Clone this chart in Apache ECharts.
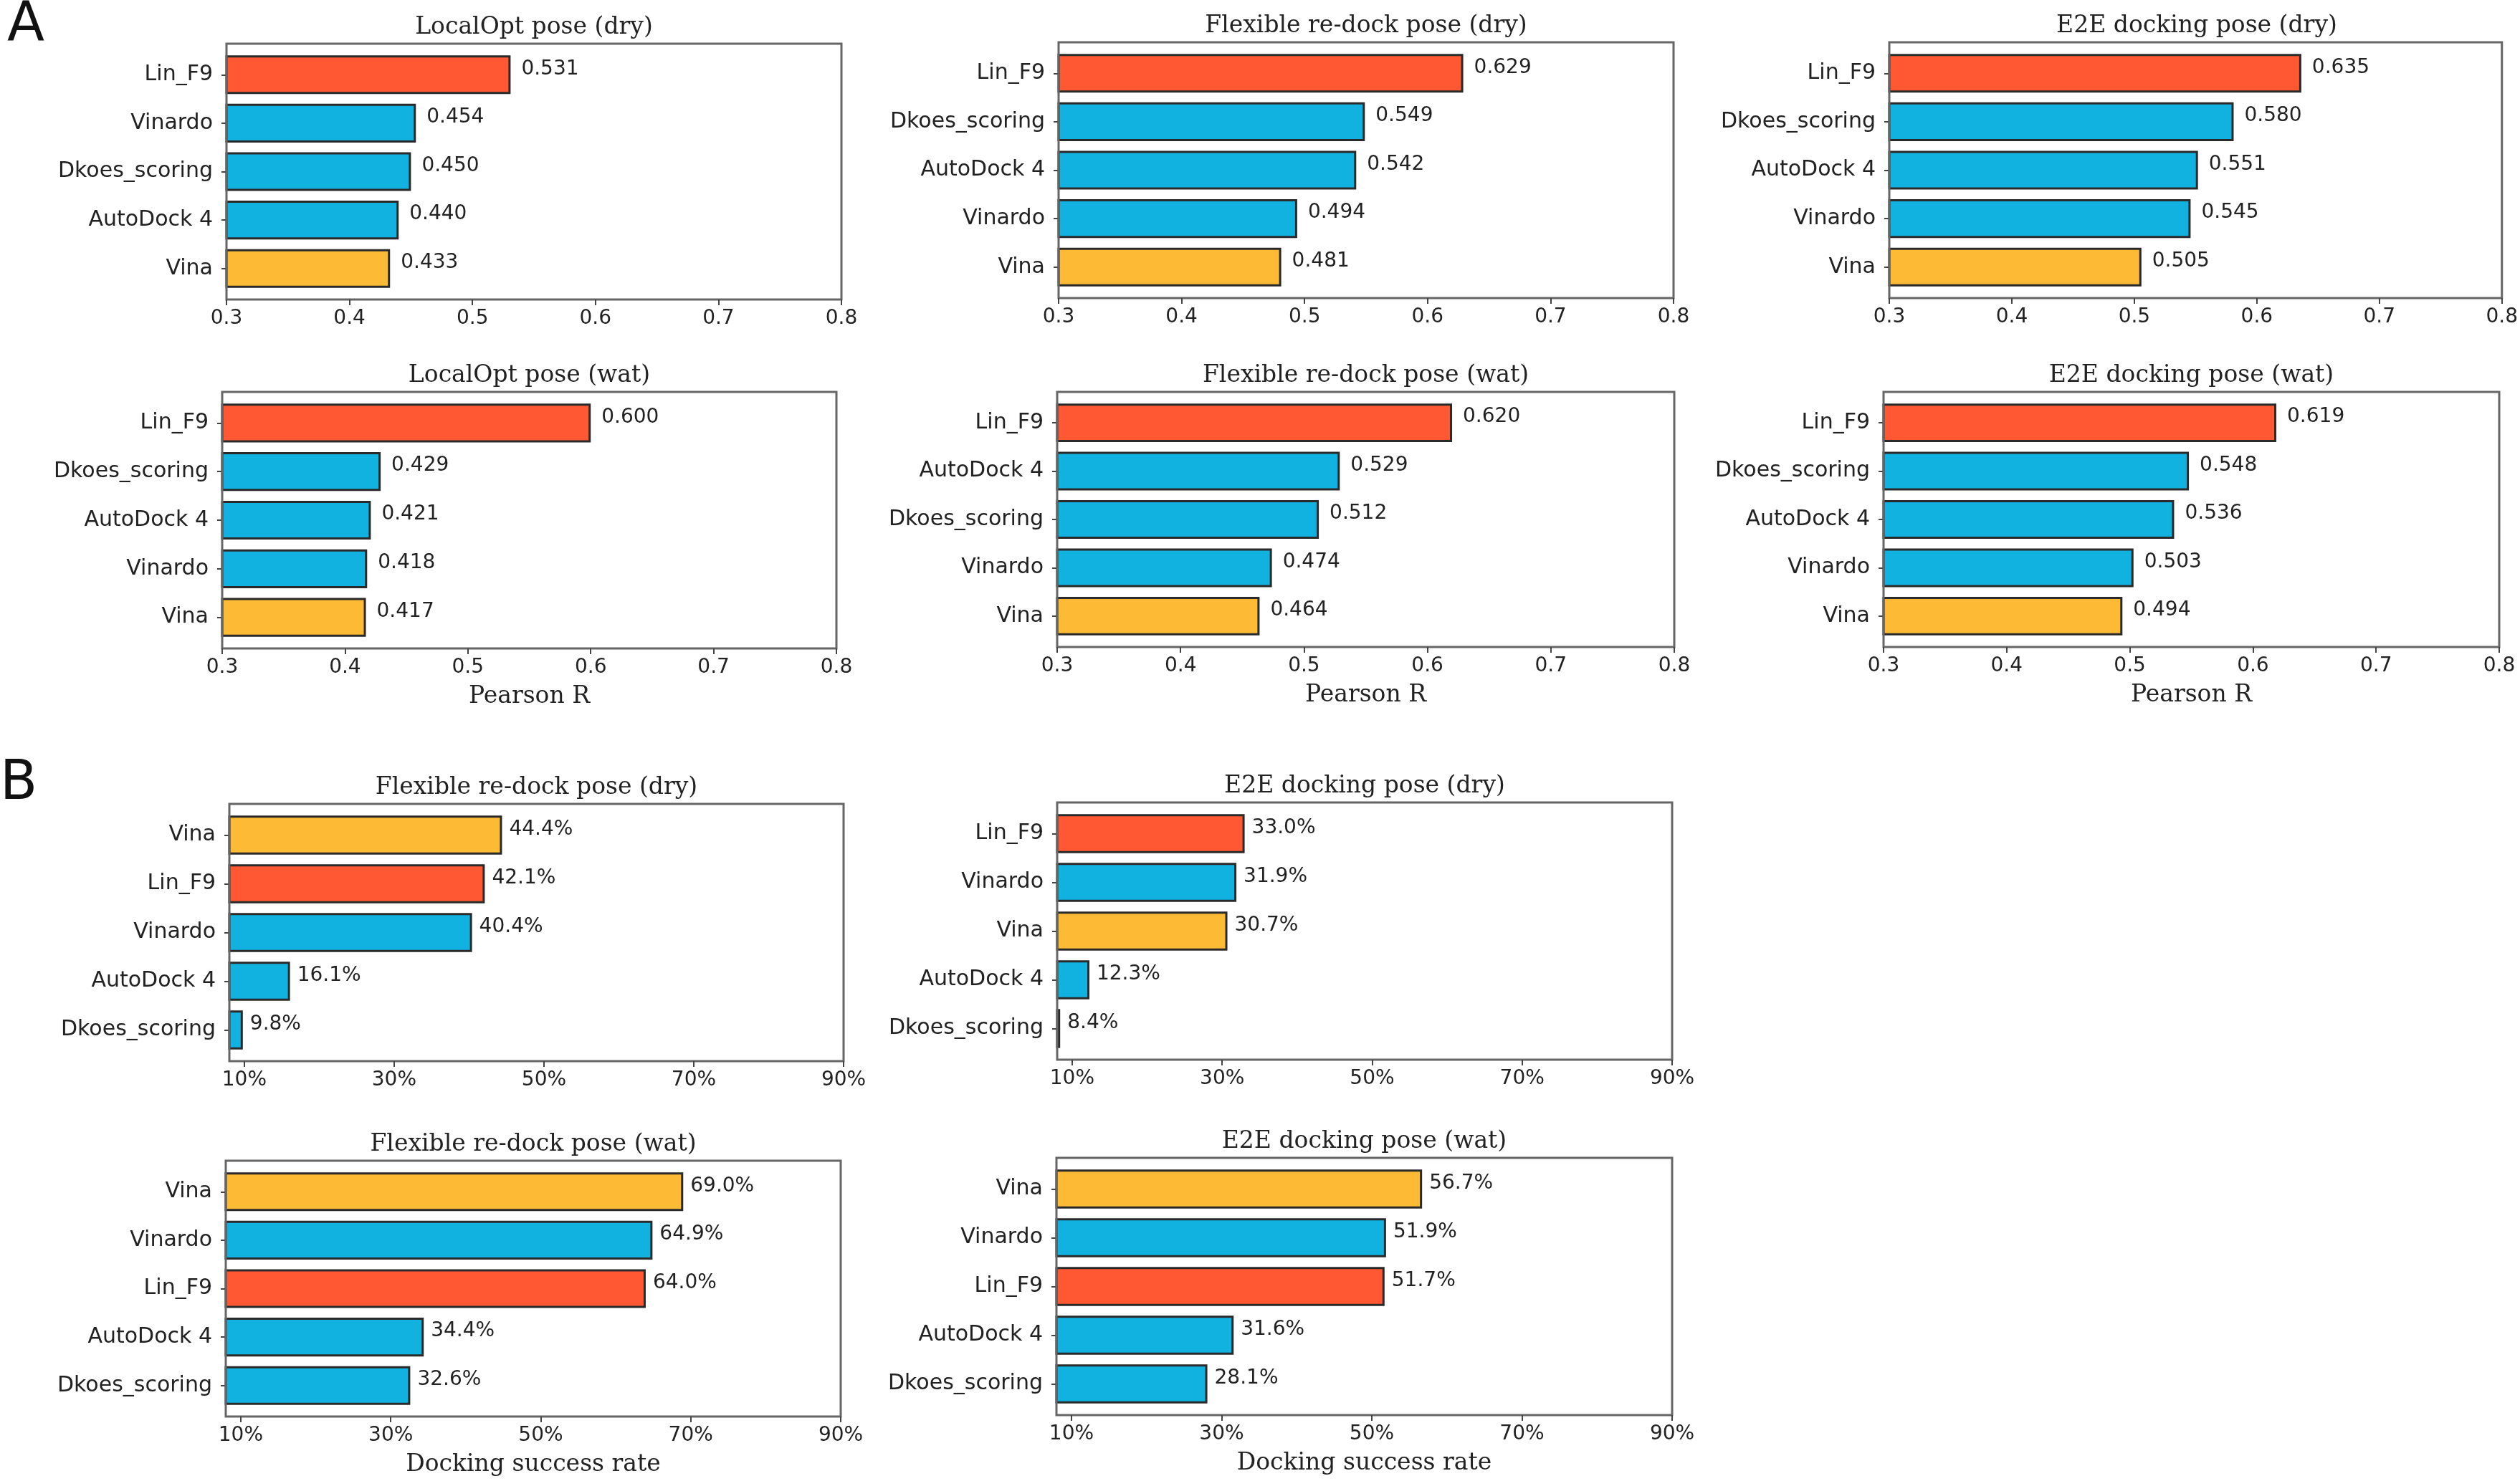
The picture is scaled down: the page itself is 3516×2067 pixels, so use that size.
<!DOCTYPE html>
<html>
<head>
<meta charset="utf-8">
<script src="https://cdn.jsdelivr.net/npm/echarts/dist/echarts.min.js"></script>
<style>
html,body{margin:0;padding:0;background:#ffffff;}
#chart{width:3516px;height:2067px;}
</style>
</head>
<body>
<div id="chart"></div>
<script>
// ---------------- DATA ----------------
const panelTitles = [
  'LocalOpt pose (dry)', 'Flexible re-dock pose (dry)', 'E2E docking pose (dry)',
  'LocalOpt pose (wat)', 'Flexible re-dock pose (wat)', 'E2E docking pose (wat)',
  'Flexible re-dock pose (dry)', 'E2E docking pose (dry)',
  'Flexible re-dock pose (wat)', 'E2E docking pose (wat)'
];

const localDryCats = ['Lin_F9', 'Vinardo', 'Dkoes_scoring', 'AutoDock 4', 'Vina'];
const localDryVals = [0.531, 0.454, 0.450, 0.440, 0.433];

const flexDryCats = ['Lin_F9', 'Dkoes_scoring', 'AutoDock 4', 'Vinardo', 'Vina'];
const flexDryVals = [0.629, 0.549, 0.542, 0.494, 0.481];

const e2eDryCats = ['Lin_F9', 'Dkoes_scoring', 'AutoDock 4', 'Vinardo', 'Vina'];
const e2eDryVals = [0.635, 0.580, 0.551, 0.545, 0.505];

const localWatCats = ['Lin_F9', 'Dkoes_scoring', 'AutoDock 4', 'Vinardo', 'Vina'];
const localWatVals = [0.600, 0.429, 0.421, 0.418, 0.417];

const flexWatCats = ['Lin_F9', 'AutoDock 4', 'Dkoes_scoring', 'Vinardo', 'Vina'];
const flexWatVals = [0.620, 0.529, 0.512, 0.474, 0.464];

const e2eWatCats = ['Lin_F9', 'Dkoes_scoring', 'AutoDock 4', 'Vinardo', 'Vina'];
const e2eWatVals = [0.619, 0.548, 0.536, 0.503, 0.494];

const succFlexDryCats = ['Vina', 'Lin_F9', 'Vinardo', 'AutoDock 4', 'Dkoes_scoring'];
const succFlexDryVals = [44.4, 42.1, 40.4, 16.1, 9.8];

const succE2eDryCats = ['Lin_F9', 'Vinardo', 'Vina', 'AutoDock 4', 'Dkoes_scoring'];
const succE2eDryVals = [33.0, 31.9, 30.7, 12.3, 8.4];

const succFlexWatCats = ['Vina', 'Vinardo', 'Lin_F9', 'AutoDock 4', 'Dkoes_scoring'];
const succFlexWatVals = [69.0, 64.9, 64.0, 34.4, 32.6];

const succE2eWatCats = ['Vina', 'Vinardo', 'Lin_F9', 'AutoDock 4', 'Dkoes_scoring'];
const succE2eWatVals = [56.7, 51.9, 51.7, 31.6, 28.1];

const pearsonTicks = [0.3, 0.4, 0.5, 0.6, 0.7, 0.8];
const successTicks = [10, 30, 50, 70, 90];
const pearsonRange = [0.3, 0.8];
const successRange = [8, 90];

const pearsonName = 'Pearson R';
const successName = 'Docking success rate';
const panelLetters = ['A', 'B'];

// ---------------- LAYOUT / STYLE ----------------
const colorOf = {
  'Lin_F9': '#FF5833',
  'Vina': '#FDBA35',
  'Vinardo': '#12B2E0',
  'Dkoes_scoring': '#12B2E0',
  'AutoDock 4': '#12B2E0'
};

const panels = [
  {cats: localDryCats, vals: localDryVals, kind: 'A', box: [316, 61, 1174, 418], xname: false},
  {cats: flexDryCats, vals: flexDryVals, kind: 'A', box: [1477, 59, 2335, 416], xname: false},
  {cats: e2eDryCats, vals: e2eDryVals, kind: 'A', box: [2636, 59, 3494, 416], xname: false},
  {cats: localWatCats, vals: localWatVals, kind: 'A', box: [310, 547, 1167, 905], xname: true},
  {cats: flexWatCats, vals: flexWatVals, kind: 'A', box: [1475, 547, 2336, 903], xname: true},
  {cats: e2eWatCats, vals: e2eWatVals, kind: 'A', box: [2628, 547, 3487, 903], xname: true},
  {cats: succFlexDryCats, vals: succFlexDryVals, kind: 'B', box: [320, 1122, 1177, 1481], xname: false},
  {cats: succE2eDryCats, vals: succE2eDryVals, kind: 'B', box: [1475, 1120, 2333, 1479], xname: false},
  {cats: succFlexWatCats, vals: succFlexWatVals, kind: 'B', box: [315, 1620, 1173, 1977], xname: true},
  {cats: succE2eWatCats, vals: succE2eWatVals, kind: 'B', box: [1474, 1616, 2333, 1975], xname: true}
];

const TEXT = '#222222';
const SANS = 'DejaVu Sans';
const SERIF = 'DejaVu Serif';

const option = {
  animation: false,
  backgroundColor: '#ffffff',
  title: [],
  grid: [],
  xAxis: [],
  yAxis: [],
  series: []
};

option.title.push({
  text: panelLetters[0], left: 36, top: 36, padding: 0,
  textAlign: 'center', textVerticalAlign: 'middle',
  textStyle: {fontFamily: SANS, fontSize: 76, fontWeight: 'normal', color: '#111'}
});
option.title.push({
  text: panelLetters[1], left: 26, top: 1095, padding: 0,
  textAlign: 'center', textVerticalAlign: 'middle',
  textStyle: {fontFamily: SANS, fontSize: 76, fontWeight: 'normal', color: '#111'}
});

panels.forEach((p, i) => {
  const [l, t, r, b] = p.box;
  const H = b - t;
  const W = r - l;
  const unit = H / 5.28; // matplotlib limits -0.64 .. 4.64
  const isA = p.kind === 'A';
  const range = isA ? pearsonRange : successRange;
  const ticks = isA ? pearsonTicks : successTicks;
  const fmtTick = isA ? (v) => Number(v).toFixed(1) : (v) => Math.round(v) + '%';
  const fmtVal = isA ? (prm) => Number(prm.value).toFixed(3) : (prm) => Number(prm.value).toFixed(1) + '%';
  const fi = option.grid.length;

  // frame grid
  option.grid.push({
    left: l, top: t, width: W, height: H, show: true,
    borderColor: '#666666', borderWidth: 3, backgroundColor: 'transparent', z: 10
  });
  // inner grid for bars (5 category bands)
  option.grid.push({
    left: l, top: t + 0.14 * unit, width: W, height: 5 * unit, show: false
  });

  option.xAxis.push({
    gridIndex: fi, type: 'value', min: range[0], max: range[1], z: 11,
    splitLine: {show: false},
    axisLine: {show: false},
    axisTick: {show: true, length: 8, customValues: ticks, lineStyle: {color: '#444', width: 2}},
    axisLabel: {
      show: true, customValues: ticks, margin: 13, formatter: fmtTick,
      fontFamily: SANS, fontSize: 28, color: TEXT
    }
  });
  option.xAxis.push({
    gridIndex: fi + 1, type: 'value', min: range[0], max: range[1], show: false,
    splitLine: {show: false}
  });
  option.yAxis.push({gridIndex: fi, type: 'value', show: false, splitLine: {show: false}});
  option.yAxis.push({
    gridIndex: fi + 1, type: 'category', data: p.cats, inverse: true,
    axisLine: {show: false},
    axisTick: {show: true, alignWithLabel: true, length: 7, lineStyle: {color: '#444', width: 2}},
    axisLabel: {margin: 19, fontFamily: SANS, fontSize: 30, color: TEXT},
    splitLine: {show: false}
  });

  option.series.push({
    type: 'bar',
    xAxisIndex: fi + 1,
    yAxisIndex: fi + 1,
    barWidth: '80%',
    clip: true,
    z: 2,
    data: p.vals.map((v, k) => ({value: v, itemStyle: {color: colorOf[p.cats[k]]}})),
    itemStyle: {borderColor: '#2a2a2a', borderWidth: 3},
    label: {
      show: true, position: 'right', distance: isA ? 15 : 10, offset: [0, -8],
      formatter: fmtVal, fontFamily: SANS, fontSize: 28, color: TEXT
    }
  });

  // panel title
  option.title.push({
    text: panelTitles[i], left: l + W / 2, top: t - 23, padding: 0,
    textAlign: 'center', textVerticalAlign: 'middle',
    textStyle: {fontFamily: SERIF, fontSize: 33, fontWeight: 'normal', color: TEXT}
  });
  // x-axis name
  if (p.xname) {
    option.title.push({
      text: isA ? pearsonName : successName, left: l + W / 2, top: b + 67, padding: 0,
      textAlign: 'center', textVerticalAlign: 'middle',
      textStyle: {fontFamily: SERIF, fontSize: 33, fontWeight: 'normal', color: TEXT}
    });
  }
});

const chart = echarts.init(document.getElementById('chart'), null, {renderer: 'canvas'});
chart.setOption(option);
</script>
</body>
</html>
